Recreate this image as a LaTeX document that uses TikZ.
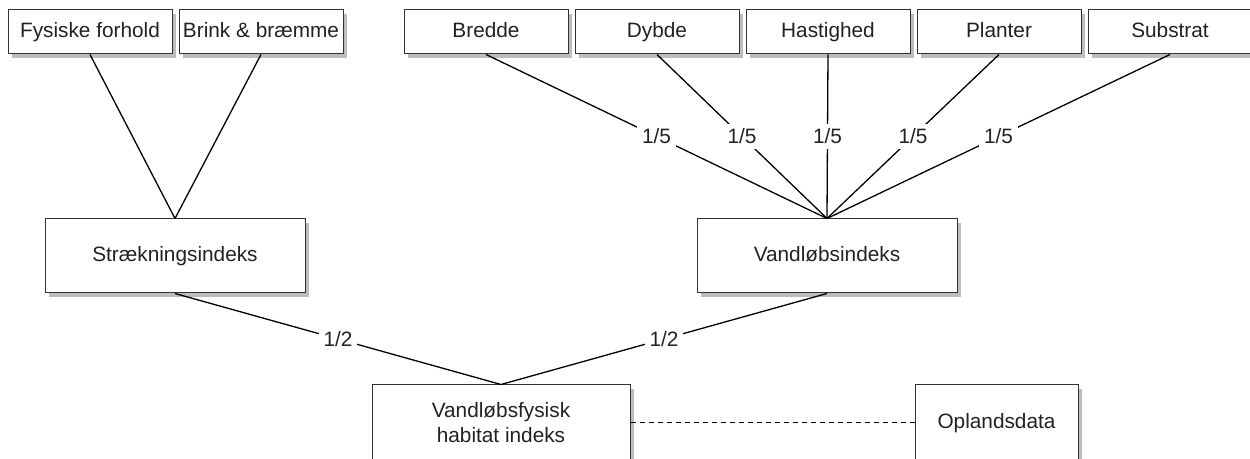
\documentclass[tikz,border=0pt]{standalone}
\usepackage{fontspec}
\setmainfont{Liberation Sans}
\usetikzlibrary{positioning, shadows}
\definecolor{InkA}{HTML}{222222}
\definecolor{ShadeA}{HTML}{BDBDBD}
\tikzset{
  box/.style={draw=black!80, fill=white, text=InkA, align=center, font=\fontsize{10.4}{12.5}\selectfont, line width=0.5pt,
    drop shadow={shadow xshift=2pt, shadow yshift=-2pt, fill=ShadeA, opacity=1}},
  oneline/.style={text height=7.6pt, text depth=2.2pt},
  small/.style={box, oneline, minimum width=82pt, minimum height=22pt, inner sep=1pt},
  big/.style={box, minimum width=130pt, minimum height=37pt},
  low/.style={big, minimum height=38pt},
  link/.style={line width=0.65pt},
  wt/.style={fill=white, text=InkA, font=\fontsize{10.4}{12.5}\selectfont, inner sep=2.5pt}
}

\begin{document}
\begin{tikzpicture}[x=0.5pt, y=-0.5pt, node distance=3pt and 3pt]
  \useasboundingbox (0,0) rectangle (1250,459);
  \node[small] (fysisk) at (90,32) {Fysiske forhold};
  \node[small,right=of fysisk] (brink) {Brink \& bræmme};
  \node[small] (bredde) at (486,32) {Bredde};
  \node[small,right=of bredde] (dybde) {Dybde};
  \node[small,right=of dybde] (hast) {Hastighed};
  \node[small,right=of hast] (planter) {Planter};
  \node[small,right=of planter] (substrat) {Substrat};
  \node[big,oneline] (straek) at (175,256) {Strækningsindeks};
  \node[big,oneline] (vidx) at (827,256) {Vandløbsindeks};
  \node[low,minimum width=129pt] (habitat) at (501,423) {Vandløbsfysisk\\habitat indeks};
  \node[low,oneline,minimum width=81.5pt] (opland) at (996.5,423) {Oplandsdata};

  \draw[link] (fysisk.south) -- (straek.north);
  \draw[link] (brink.south) -- (straek.north);
  \draw[link] (bredde.south) -- node[wt] {1/5} (vidx.north);
  \draw[link] (dybde.south) -- node[wt] {1/5} (vidx.north);
  \draw[link] (hast.south) -- node[wt] {1/5} (vidx.north);
  \draw[link] (planter.south) -- node[wt] {1/5} (vidx.north);
  \draw[link] (substrat.south) -- node[wt] {1/5} (vidx.north);
  \draw[link] (straek.south) -- node[wt] {1/2} (habitat.north);
  \draw[link] (vidx.south) -- node[wt] {1/2} (habitat.north);
  \draw[line width=0.5pt, dash pattern=on 2.5pt off 2pt] (habitat.east) -- (opland.west);
\end{tikzpicture}
\end{document}
